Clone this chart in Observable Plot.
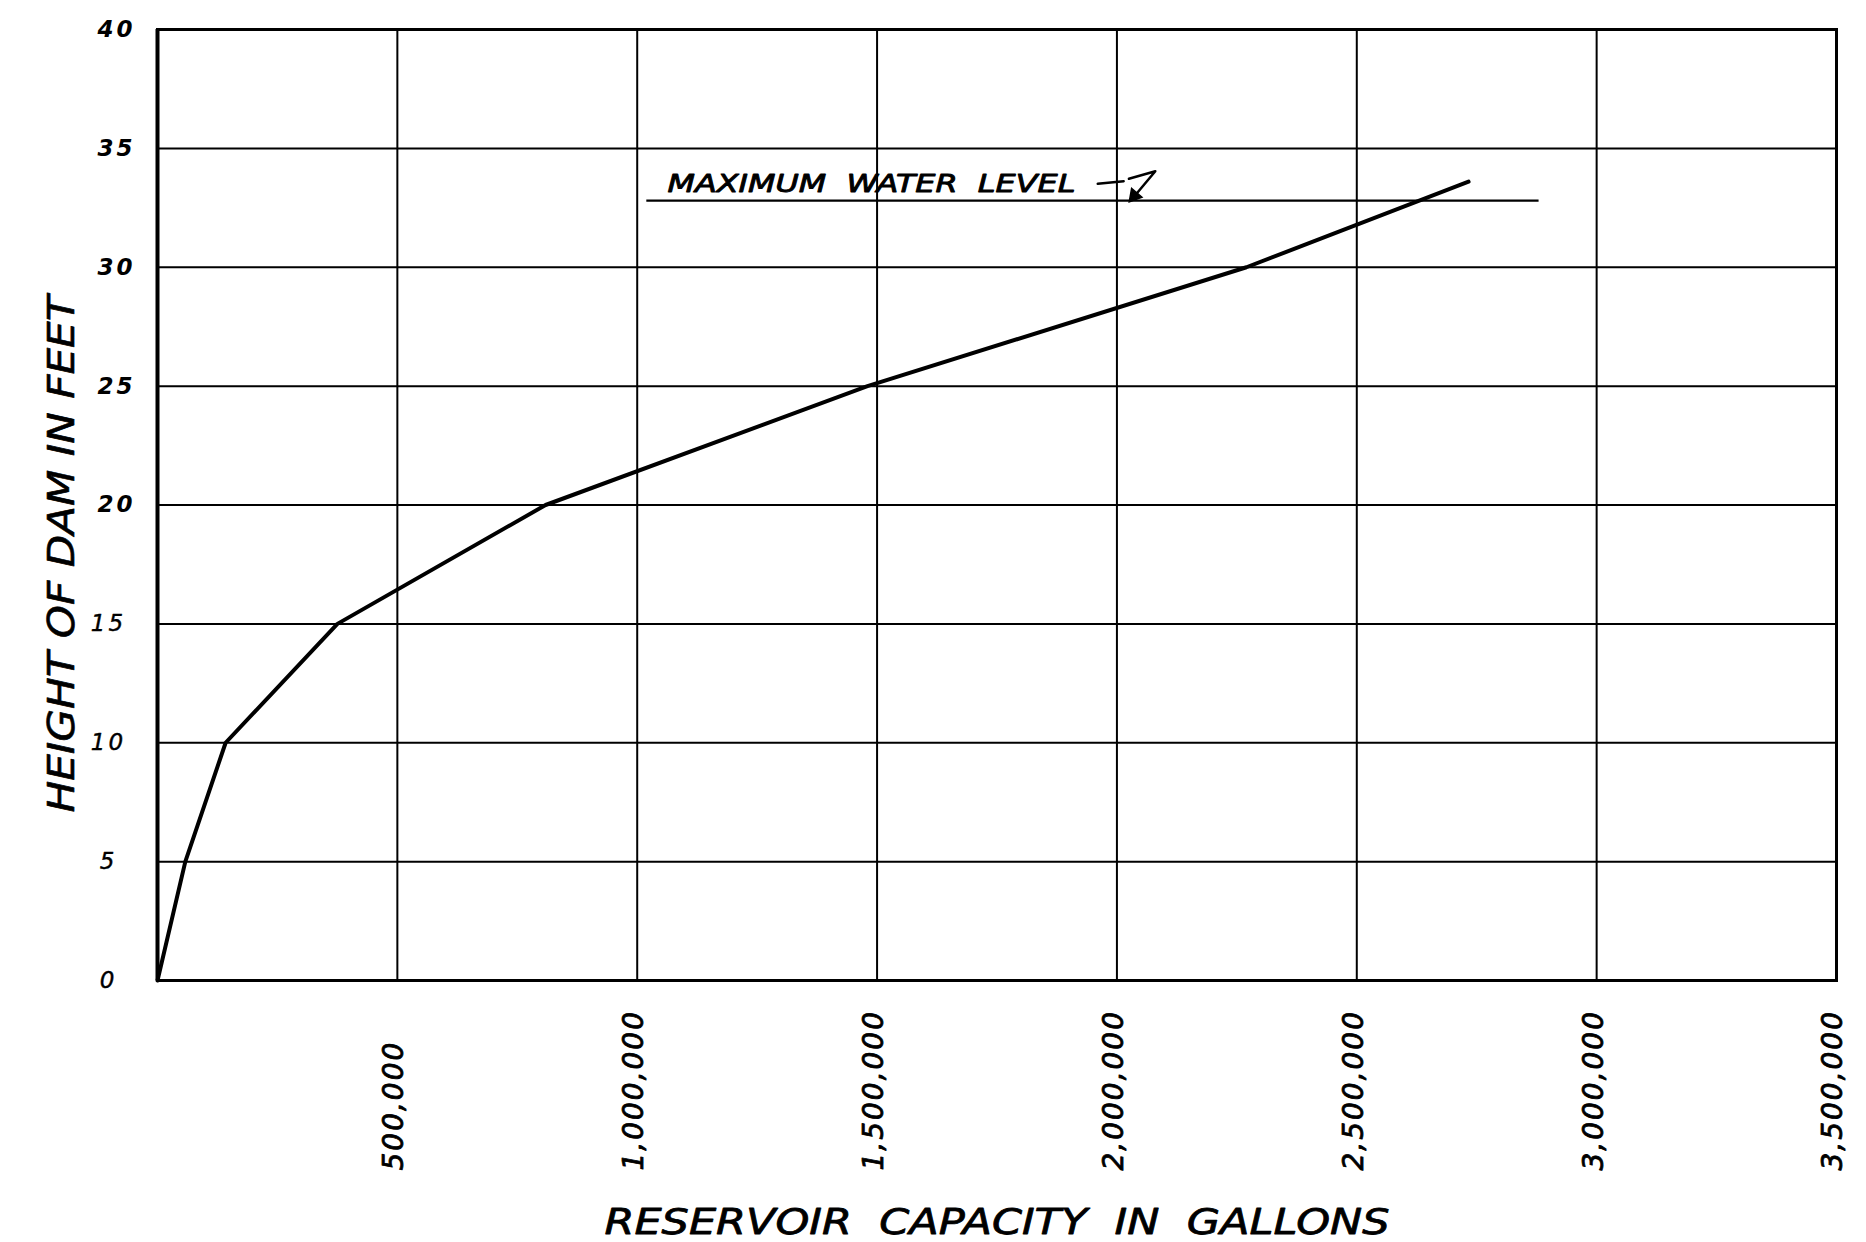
<!DOCTYPE html>
<html>
<head>
<meta charset="utf-8">
<script src="https://cdn.jsdelivr.net/npm/d3@7"></script>
<script src="https://cdn.jsdelivr.net/npm/@observablehq/plot@0.6"></script>
<style>
  html, body { margin: 0; padding: 0; background: #fff; }
  #chart svg { display: block; }
</style>
</head>
<body>
<div id="chart"></div>
<script>
// ---- data ----
const capacity = [0, 58000, 142000, 375000, 809000, 1480000, 2270000, 2733000]; // gallons
const height   = [0, 5, 10, 15, 20, 25, 30, 33.6];                                 // feet

const xTicks = [500000, 1000000, 1500000, 2000000, 2500000, 3000000, 3500000];
const xTickLabels = ["500,000", "1,000,000", "1,500,000", "2,000,000", "2,500,000", "3,000,000", "3,500,000"];
const yGrid = [0, 5, 10, 15, 20, 25, 30, 35, 40];
const yTicksLight = [0, 5, 10, 15];
const yTicksBold = [20, 25, 30, 35, 40];

const xTitle = "RESERVOIR  CAPACITY  IN  GALLONS";
const yTitle = "HEIGHT OF DAM IN FEET";

// maximum water level annotation (data units)
const maxWaterLevel = 32.8;
const maxLineCapacity = [1020000, 2880000];
const maxLabel = "MAXIMUM  WATER  LEVEL";
const maxLabelAt = {capacity: 1063000, height: 33.15};
const dashCapacity = [1960000, 2014000];
const dashHeight = [33.51, 33.62];
const hookCapacity = [2025000, 2080000, 2032000];
const hookHeight = [33.72, 34.04, 32.88];

// ---- build ----
const curve = capacity.map((c, i) => ({c, h: height[i]}));
const dash = dashCapacity.map((c, i) => ({c, h: dashHeight[i]}));
const hook = hookCapacity.map((c, i) => ({c, h: hookHeight[i]}));
const xLab = xTicks.map((v, i) => ({v, label: xTickLabels[i]}));

const FONT = "DejaVu Sans, Liberation Sans, sans-serif";

const plot = Plot.plot({
  width: 1866,
  height: 1242,
  marginLeft: 157,
  marginRight: 30,
  marginTop: 29,
  marginBottom: 262,
  style: {fontFamily: FONT, background: "#fff", color: "#000", overflow: "visible"},
  x: {domain: [0, 3500000], axis: null},
  y: {domain: [0, 40], axis: null},
  marks: [
    Plot.ruleX(xTicks, {stroke: "#000", strokeWidth: 2}),
    Plot.ruleY(yGrid, {stroke: "#000", strokeWidth: 2}),
    Plot.frame({stroke: "#000", strokeWidth: 3}),
    Plot.ruleX([0], {stroke: "#000", strokeWidth: 4}),
    // maximum water level line + label
    Plot.ruleY([maxWaterLevel], {x1: maxLineCapacity[0], x2: maxLineCapacity[1], stroke: "#000", strokeWidth: 2.2}),
    Plot.text([maxLabel], {x: maxLabelAt.capacity, y: maxLabelAt.height, textAnchor: "start", lineAnchor: "bottom",
      fontSize: 25, fontStyle: "italic", fill: "#000", stroke: "#000", strokeWidth: 0.9, ariaDescription: "maxlabel"}),
    Plot.line(dash, {x: "c", y: "h", stroke: "#000", strokeWidth: 2.5}),
    Plot.line(hook, {x: "c", y: "h", stroke: "#000", strokeWidth: 2.5, strokeLinejoin: "round"}),
    Plot.dot([hook[2]], {x: "c", y: "h", symbol: "triangle", r: 5, fill: "#000", stroke: "#000", rotate: 220, dx: 2, dy: -3}),
    // the capacity curve
    Plot.line(curve, {x: "c", y: "h", stroke: "#000", strokeWidth: 4, strokeLinejoin: "round", strokeLinecap: "round"}),
    // y tick labels
    Plot.text(yTicksBold, {y: d => d, frameAnchor: "left", dx: -22, textAnchor: "end", lineAnchor: "middle",
      fontSize: 23, fontWeight: "bold", fontStyle: "italic", fill: "#000", ariaDescription: "yboldlabels"}),
    Plot.text(yTicksLight, {y: d => d, frameAnchor: "left", dx: -49, textAnchor: "middle", lineAnchor: "middle",
      fontSize: 23, fontStyle: "italic", fill: "#000", stroke: "#000", strokeWidth: 0.4, ariaDescription: "ylightlabels"}),
    // x tick labels
    Plot.text(xLab, {x: "v", text: "label", frameAnchor: "bottom", dy: 190, dx: -3, rotate: -90,
      textAnchor: "start", lineAnchor: "middle", fontSize: 28, fontStyle: "italic", fill: "#000",
      stroke: "#000", strokeWidth: 0.8, ariaDescription: "xlabels"}),
    // axis titles
    Plot.text([xTitle], {frameAnchor: "bottom", dy: 253, lineAnchor: "bottom", textAnchor: "middle",
      fontSize: 35, fontStyle: "italic", fill: "#000", stroke: "#000", strokeWidth: 0.8, ariaDescription: "xtitle"}),
    Plot.text([yTitle], {frameAnchor: "left", dx: -95, dy: 49, rotate: -90, textAnchor: "middle", lineAnchor: "middle",
      fontSize: 37, fontStyle: "italic", fill: "#000", stroke: "#000", strokeWidth: 0.6, ariaDescription: "ytitle"})
  ]
});

const svg = d3.select(plot);
svg.selectAll('g[aria-description="xtitle"] text').attr("textLength", 785).attr("lengthAdjust", "spacingAndGlyphs");
svg.selectAll('g[aria-description="ytitle"] text').attr("textLength", 517).attr("lengthAdjust", "spacingAndGlyphs");
svg.selectAll('g[aria-description="maxlabel"] text').attr("textLength", 408).attr("lengthAdjust", "spacingAndGlyphs");
svg.selectAll('g[aria-description="xlabels"] text').style("letter-spacing", "2px");
svg.selectAll('g[aria-description="yboldlabels"] text').style("letter-spacing", "3px");
svg.selectAll('g[aria-description="ylightlabels"] text').style("letter-spacing", "3px");

document.getElementById("chart").appendChild(plot);
</script>
</body>
</html>
